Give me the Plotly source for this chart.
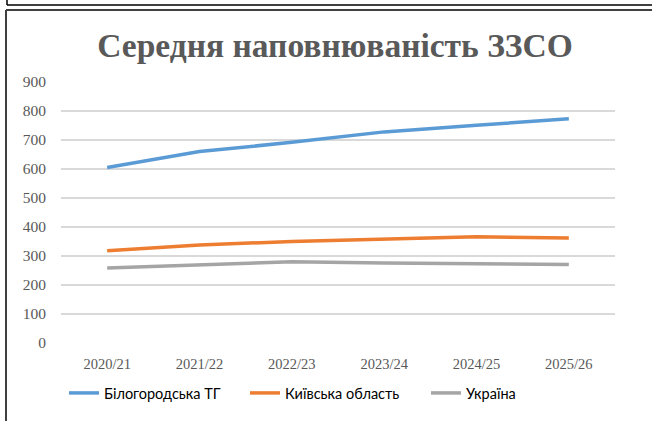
import plotly.graph_objects as go

categories = ["2020/21", "2021/22", "2022/23", "2023/24", "2024/25", "2025/26"]
bilohorodska = [605, 660, 692, 728, 751, 773]
kyivska = [318, 338, 350, 357, 366, 362]
ukraine = [259, 271, 280, 276, 272, 271]
series_names = ["Білогородська ТГ", "Київська область", "Україна"]
colors = ["#5b9bd5", "#ed7d31", "#a5a5a5"]
y_ticks = [0, 100, 200, 300, 400, 500, 600, 700, 800, 900]

W, H = 652, 421
L, R, T, B = 61, 37, 82, 78
pw, ph = W - L - R, H - T - B

def px_x(x):
    return (x - L) / pw

def px_y(y):
    return (H - B - y) / ph

fig = go.Figure()
for name, vals, col in zip(series_names, [bilohorodska, kyivska, ukraine], colors):
    fig.add_trace(go.Scatter(x=categories, y=vals, name=name, mode="lines",
                             line=dict(color=col, width=3.5)))

shapes = [
    dict(type="line", xref="paper", yref="paper", x0=px_x(7), x1=px_x(660), y0=px_y(5), y1=px_y(5),
         line=dict(color="#000000", width=1.5)),
    dict(type="line", xref="paper", yref="paper", x0=px_x(7), x1=px_x(7), y0=px_y(-5), y1=px_y(5),
         line=dict(color="#000000", width=1.5)),
    dict(type="line", xref="paper", yref="paper", x0=px_x(6), x1=px_x(660), y0=px_y(10), y1=px_y(10),
         line=dict(color="#404040", width=2)),
    dict(type="line", xref="paper", yref="paper", x0=px_x(6), x1=px_x(6), y0=px_y(10), y1=px_y(430),
         line=dict(color="#404040", width=2)),
]

fig.update_layout(
    width=W, height=H,
    margin=dict(l=L, r=R, t=T, b=B, autoexpand=False),
    paper_bgcolor="white", plot_bgcolor="white",
    title=dict(text="<b>Середня наповнюваність ЗЗСО</b>", x=px_x(335), xref="paper", xanchor="center",
               y=1 - 45.5 / H, yref="container", yanchor="middle",
               font=dict(family="Liberation Serif", size=33.5, color="#595959")),
    xaxis=dict(range=[-0.5, 5.5], showgrid=False, showline=False, ticks="",
               tickfont=dict(family="Liberation Serif", size=14.5, color="#595959"),
               ticklabelstandoff=10),
    yaxis=dict(range=[0, 900], tickvals=y_ticks, showgrid=True, gridcolor="#d9d9d9", gridwidth=1.5,
               zeroline=False, showline=False, ticks="",
               tickfont=dict(family="Liberation Serif", size=15.5, color="#595959"), ticklabelstandoff=14),
    legend=dict(orientation="h", x=px_x(64), xanchor="left", y=px_y(393), yanchor="middle",
                entrywidth=136, entrywidthmode="pixels",
                font=dict(family="Lato", size=14.5, color="#000000"), bgcolor="rgba(0,0,0,0)"),
    shapes=shapes,
    showlegend=True,
)

fig.write_html("out.html", config={"displayModeBar": False},
               post_script="document.body.style.margin='0';")
